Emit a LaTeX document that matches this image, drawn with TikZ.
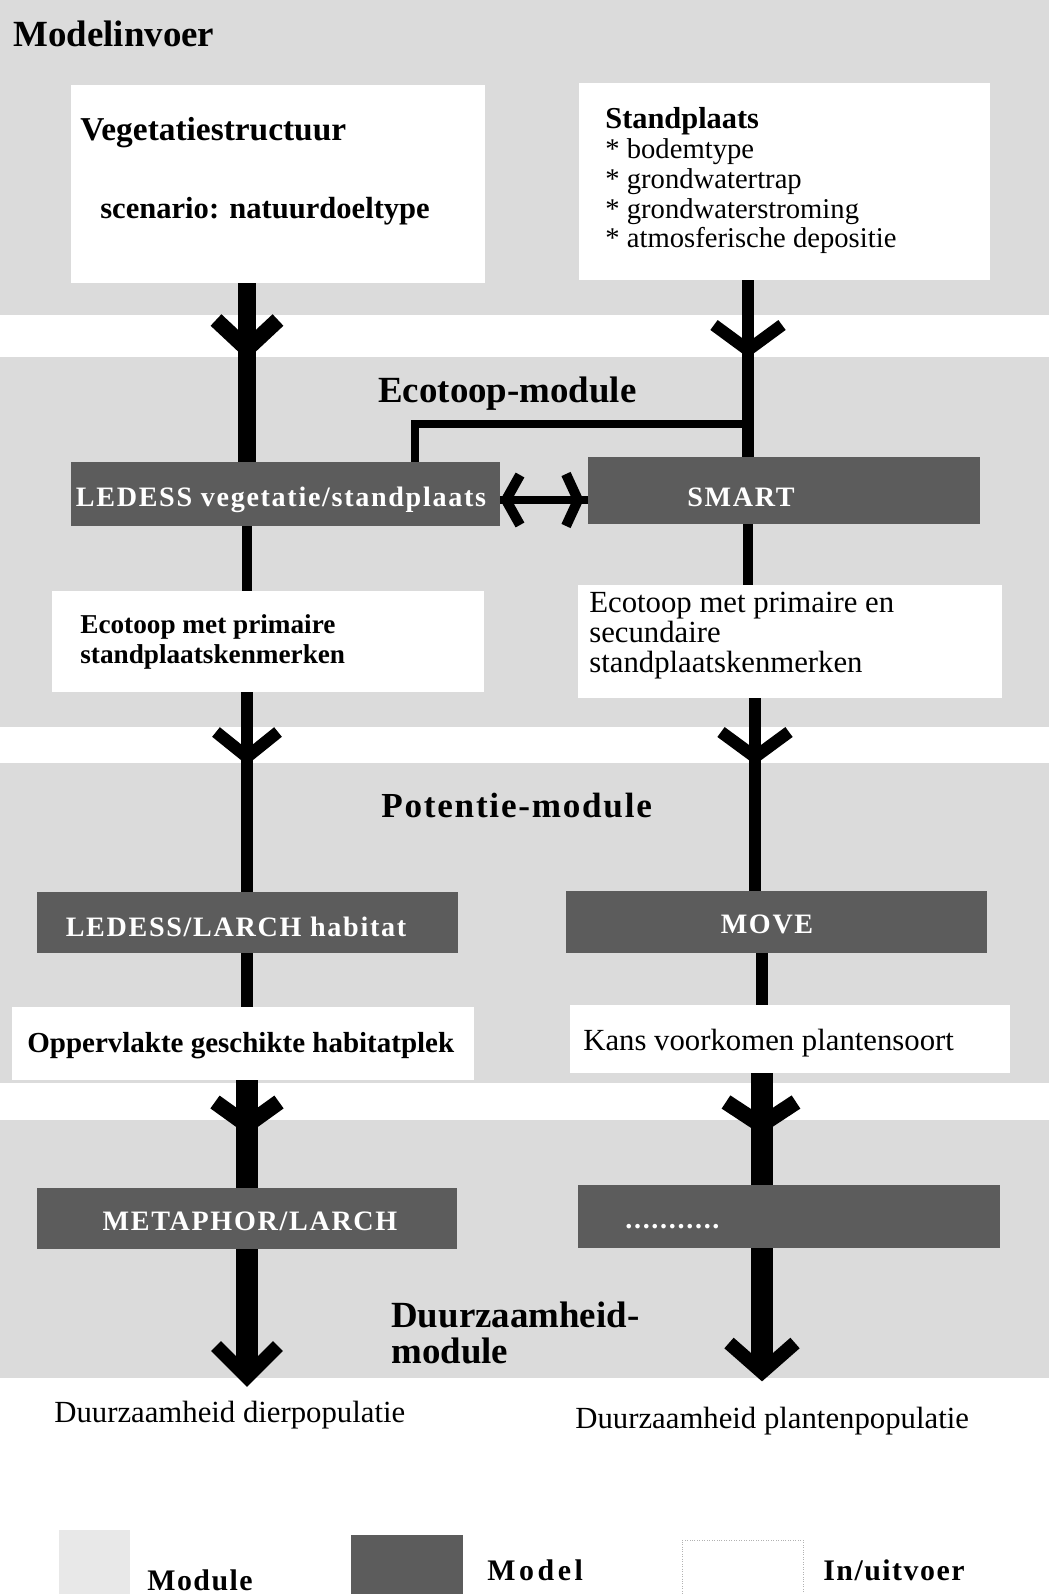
\documentclass[tikz,border=0pt]{standalone}
\usepackage{fontspec}
\setmainfont{Liberation Serif}
\usetikzlibrary{calc,fit}

\definecolor{modulegrey}{gray}{0.86}
\definecolor{modelgrey}{gray}{0.36}

\tikzset{
  inout/.style={fill=white, inner sep=0pt},
  model/.style={fill=modelgrey, inner sep=0pt},
  modeltxt/.style={anchor=base, inner sep=0pt, text=white,
    font=\bfseries\fontsize{16}{19}\selectfont\addfontfeatures{LetterSpace=6}},
  modtitle/.style={anchor=base west, inner sep=0pt, align=left,
    font=\bfseries\fontsize{21}{20.4}\selectfont},
  txt/.style={anchor=base west, inner sep=0pt, align=left,
    font=\fontsize{17.5}{16.8}\selectfont},
  txtb/.style={anchor=base west, inner sep=0pt, align=left,
    font=\bfseries\fontsize{15.5}{17}\selectfont},
  legend/.style={anchor=base west, inner sep=0pt,
    font=\bfseries\fontsize{17}{17}\selectfont\addfontfeatures{LetterSpace=5}},
  chev/.style={line join=miter, line cap=butt},
}

\begin{document}
\begin{tikzpicture}[x=0.02cm,y=-0.02cm]
  \useasboundingbox (0,0) rectangle (1049,1594);

  % module bands
  \fill[modulegrey] (0,0) rectangle (1049,315);
  \fill[modulegrey] (0,357) rectangle (1049,727);
  \fill[modulegrey] (0,763) rectangle (1049,1083);
  \fill[modulegrey] (0,1120) rectangle (1049,1378);

  % in/uitvoer
  \node[inout, fit={(71,85) (485,283)}] (veg) {};
  \node[inout, fit={(579,83) (990,280)}] (stand) {};
  \node[inout, fit={(52,591) (484,692)}] (ecoL) {};
  \node[inout, fit={(578,585) (1002,698)}] (ecoR) {};
  \node[inout, fit={(12,1007) (474,1080)}] (oppL) {};
  \node[inout, fit={(570,1005) (1010,1073)}] (kansR) {};

  % modellen
  \node[model, fit={(71,462) (500,526)}] (ledess) {};
  \node[model, fit={(588,457) (980,524)}] (smart) {};
  \node[model, fit={(37,892) (458,953)}] (larch) {};
  \node[model, fit={(566,891) (987,953)}] (move) {};
  \node[model, fit={(37,1188) (457,1249)}] (meta) {};
  \node[model, fit={(578,1185) (1000,1248)}] (dots) {};

  \node[modeltxt] (ledesstxt) at (281,506) {LEDESS vegetatie/standplaats};
  \node[modeltxt] (smarttxt) at (741,506) {SMART};
  \node[modeltxt] (larchtxt) at (236,936) {LEDESS/LARCH habitat};
  \node[modeltxt] (movetxt) at (767,933) {MOVE};
  \node[modeltxt] (metatxt) at (250,1230) {METAPHOR/LARCH};
  \node[modeltxt, anchor=base west] (dotstxt) at (625,1228) {...........};

  % teksten (base = basislijn van de laatste regel)
  \node[modtitle] (invoer) at (13,47) {Modelinvoer};
  \node[modtitle, font=\bfseries\fontsize{19}{20}\selectfont] (vegtitel) at (80,141) {Vegetatiestructuur};
  \node[txtb, font=\bfseries\fontsize{17.4}{17}\selectfont] (scenario) at (100,219) {scenario: natuurdoeltype};
  \node[txt, font=\fontsize{16.3}{17}\selectfont] (standtxt) at (605,248)
    {{\bfseries\fontsize{17.3}{17}\selectfont Standplaats}\\{*} bodemtype\\{*} grondwatertrap\\{*} grondwaterstroming\\{*} atmosferische depositie};
  \node[modtitle] (ecomod) at (378,402) {Ecotoop-module};
  \node[txtb] (ecoLtxt) at (80,663) {Ecotoop met primaire\\standplaatskenmerken};
  \node[txt] (ecoRtxt) at (589,672) {Ecotoop met primaire en\\secundaire\\standplaatskenmerken};
  \node[modtitle, font=\bfseries\fontsize{20}{20}\selectfont\addfontfeatures{LetterSpace=5}] (potmod) at (381,817) {Potentie-module};
  \node[txtb, font=\bfseries\fontsize{16.5}{17}\selectfont] (opptxt) at (27,1052) {Oppervlakte geschikte habitatplek};
  \node[txt] (kanstxt) at (583,1050) {Kans voorkomen plantensoort};
  \node[modtitle] (duurmod) at (391,1363) {Duurzaamheid-\\module};
  \node[txt] (diertxt) at (54,1422) {Duurzaamheid dierpopulatie};
  \node[txt] (planttxt) at (575,1428) {Duurzaamheid plantenpopulatie};

  % legenda
  \node[fill=black!9, inner sep=0pt, fit={(59,1530) (130,1594)}] (legmodule) {};
  \node[model, fit={(351,1535) (463,1594)}] (legmodel) {};
  \node[inout, draw=black!30, densely dotted, fit={(682,1540) (803,1594)}] (leginout) {};
  \node[legend] (legmoduletxt) at (147,1590) {Module};
  \node[legend, font=\bfseries\fontsize{17}{17}\selectfont\addfontfeatures{LetterSpace=12}] (legmodeltxt) at (487,1580) {Model};
  \node[legend] (leginouttxt) at (823,1580) {In/uitvoer};

  % kolommen
  \coordinate (colL) at (247,0);
  \coordinate (colR) at (748,0);
  \coordinate (colR2) at (755,0);
  \coordinate (colR3) at (762,0);
  \coordinate (colE) at (415,0);
  \coordinate (split) at (748,424);
  \coordinate (dblrow) at (0,500);

  % Modelinvoer -> Ecotoop-module
  \draw[line width=10pt] (veg.south -| colL) -- (ledess.north -| colL);
  \coordinate (tA1) at (247,349);
  \draw[chev, line width=9pt] ($(tA1)+(-31,-29)$) -- (tA1) -- ($(tA1)+(31,-29)$);
  \draw[line width=6.8pt] (stand.south -| colR) -- (smart.north -| colR);
  \coordinate (tB1) at (748,350);
  \draw[chev, line width=7pt] ($(tB1)+(-34,-25)$) -- (tB1) -- ($(tB1)+(34,-25)$);
  \draw[line width=4.5pt, line join=miter] (split) -| (ledess.north -| colE);

  % LEDESS <-> SMART
  \draw[line width=4.5pt] (ledess.east |- dblrow) -- (smart.west |- dblrow);
  \coordinate (tD1) at (506,500);
  \coordinate (tD2) at (578,500);
  \draw[chev, line width=5.7pt] ($(tD1)+(14,-25)$) -- (tD1) -- ($(tD1)+(14,25)$);
  \draw[chev, line width=5.7pt] ($(tD2)+(-12,-26)$) -- (tD2) -- ($(tD2)+(-12,26)$);

  \draw[line width=5.7pt] (ledess.south -| colL) -- (ecoL.north -| colL);
  \draw[line width=5.7pt] (smart.south -| colR) -- (ecoR.north -| colR);

  % Ecotoop-module -> Potentie-module
  \draw[line width=6.8pt] (ecoL.south -| colL) -- (larch.north -| colL);
  \coordinate (tA2) at (247,757);
  \draw[chev, line width=7pt] ($(tA2)+(-31,-25)$) -- (tA2) -- ($(tA2)+(31,-25)$);
  \draw[line width=6.8pt] (ecoR.south -| colR2) -- (move.north -| colR2);
  \coordinate (tB2) at (755,757);
  \draw[chev, line width=7pt] ($(tB2)+(-34,-25)$) -- (tB2) -- ($(tB2)+(34,-25)$);

  \draw[line width=6.8pt] (larch.south -| colL) -- (oppL.north -| colL);
  \draw[line width=6.8pt] (move.south -| colR3) -- (kansR.north -| colR3);

  % Potentie-module -> Duurzaamheid-module
  \draw[line width=12.5pt] (oppL.south -| colL) -- (meta.north -| colL);
  \coordinate (tA3) at (247,1125);
  \draw[chev, line width=9pt] ($(tA3)+(-32,-23)$) -- (tA3) -- ($(tA3)+(32,-23)$);
  \draw[line width=12.5pt] (kansR.south -| colR3) -- (dots.north -| colR3);
  \coordinate (tB3) at (761,1125);
  \draw[chev, line width=9pt] ($(tB3)+(-35,-23)$) -- (tB3) -- ($(tB3)+(35,-23)$);

  % Duurzaamheid-module -> uitvoer
  \coordinate (endL) at (247,1377);
  \coordinate (endR) at (762,1372);
  \draw[line width=12.5pt, shorten >=3pt] (meta.south -| colL) -- (endL);
  \draw[chev, line width=8pt] ($(endL)+(-31,-31)$) -- (endL) -- ($(endL)+(31,-31)$);
  \draw[line width=12.5pt, shorten >=3pt] (dots.south -| colR3) -- (endR);
  \draw[chev, line width=8pt] ($(endR)+(-33,-29)$) -- (endR) -- ($(endR)+(33,-29)$);
\end{tikzpicture}
\end{document}
